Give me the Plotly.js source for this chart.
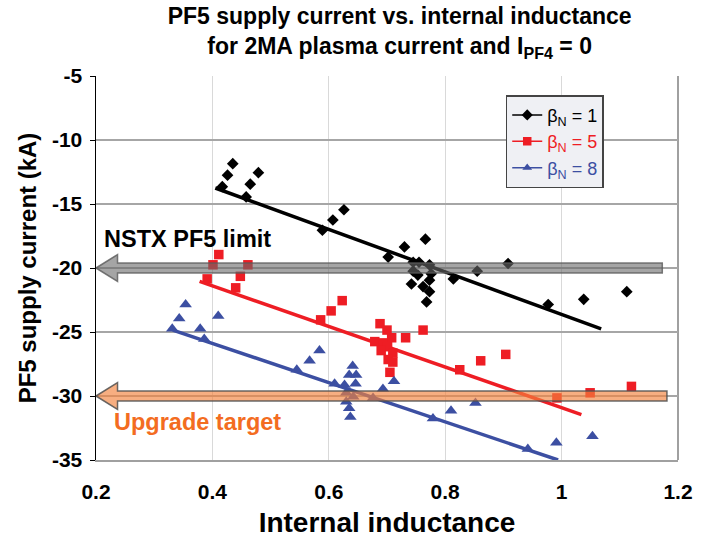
<!DOCTYPE html>
<html>
<head>
<meta charset="utf-8">
<script src="https://cdn.plot.ly/plotly-3.0.1.min.js"></script>
<style>html,body{margin:0;padding:0;background:#fff;}#chart{width:715px;height:538px;}</style>
</head>
<body>
<div id="chart"></div>
<script>
// ---- data ----
const seriesNames = ['β<sub>N</sub> = 1', 'β<sub>N</sub> = 5', 'β<sub>N</sub> = 8'];

const li_b1 = [0.417,0.426,0.435,0.465,0.479,0.458,0.589,0.607,0.626,0.702,0.730,0.766,0.745,0.755,0.773,0.745,0.753,0.776,0.773,0.742,0.762,0.773,0.768,0.814,0.855,0.908,0.977,1.038,1.112];
const ipf5_b1 = [-13.65,-12.75,-11.85,-13.45,-12.55,-14.45,-17.05,-16.25,-15.45,-19.15,-18.35,-17.75,-19.55,-19.55,-19.75,-20.25,-20.55,-20.45,-20.95,-21.25,-21.45,-21.85,-22.65,-20.85,-20.25,-19.65,-22.85,-22.45,-21.85];

const li_b5 = [0.411,0.401,0.461,0.391,0.448,0.440,0.586,0.604,0.623,0.688,0.700,0.708,0.679,0.693,0.701,0.690,0.710,0.702,0.710,0.705,0.732,0.762,0.825,0.861,0.904,0.992,1.049,1.120];
const ipf5_b5 = [-18.95,-19.75,-19.75,-20.85,-20.65,-21.55,-24.05,-23.35,-22.55,-24.35,-24.85,-25.45,-25.75,-25.85,-26.15,-26.45,-26.65,-27.15,-27.35,-28.15,-25.45,-24.85,-27.95,-27.25,-26.75,-30.15,-29.75,-29.25];

const li_b8 = [0.354,0.343,0.331,0.379,0.386,0.410,0.545,0.567,0.584,0.610,0.641,0.635,0.647,0.627,0.646,0.630,0.642,0.630,0.635,0.637,0.676,0.693,0.712,0.779,0.810,0.852,0.942,0.991,1.053];
const ipf5_b8 = [-22.85,-23.95,-24.75,-24.75,-25.55,-23.75,-27.95,-27.25,-26.45,-29.05,-27.65,-28.35,-28.35,-29.15,-29.05,-29.75,-30.05,-30.45,-30.95,-31.65,-30.15,-29.45,-28.85,-31.75,-31.15,-30.55,-34.15,-33.65,-33.15];

// fitted trend lines (end points)
const fitX_b1 = [0.405, 1.068], fitY_b1 = [-13.75, -24.75];
const fitX_b5 = [0.378, 1.034], fitY_b5 = [-21.05, -31.45];
const fitX_b8 = [0.332, 0.994], fitY_b8 = [-24.85, -35.0];

// y tick labels (plain hyphen minus as in the reference)
const yTickVals = [-35, -30, -25, -20, -15, -10, -5];
const yTickText = ['-35', '-30', '-25', '-20', '-15', '-10', '-5'];

// reference levels (arrows)
const limitLevels = [-20, -30];
const limitLabels = ['NSTX PF5 limit', 'Upgrade target'];
const limitEnds = [1.173, 1.181];

// ---- styles ----
const colors = ['#000000', '#EE1D24', '#3C4FA2'];
const symbols = ['diamond', 'square', 'triangle-up'];
const sizes = [9, 9.5, 11];
const FONT = 'Liberation Sans, Arial, sans-serif';

const xs = [li_b1, li_b5, li_b8], ys = [ipf5_b1, ipf5_b5, ipf5_b8];
const fx = [fitX_b1, fitX_b5, fitX_b8], fy = [fitY_b1, fitY_b5, fitY_b8];

const traces = [];
for (let i = 0; i < 3; i++) {
  traces.push({x: fx[i], y: fy[i], mode: 'lines', line: {color: colors[i], width: 3.5},
    showlegend: false, hoverinfo: 'skip', cliponaxis: true});
}
for (let i = 0; i < 3; i++) {
  traces.push({x: xs[i], y: ys[i], mode: 'markers',
    marker: {symbol: symbols[i], size: sizes[i], color: colors[i]},
    showlegend: false, cliponaxis: false});
}
// legend entries
for (let i = 0; i < 3; i++) {
  traces.push({x: [null], y: [null], mode: 'lines+markers',
    name: '<span style="color:' + colors[i] + '">' + seriesNames[i] + '</span>',
    line: {color: colors[i], width: 1.5},
    marker: {symbol: symbols[i], size: 8.5, color: colors[i]}});
}

// arrows
const tipX = 0.2, baseX = 0.237, headH = 1.05, barH = 0.4;
const arrowFill = ['rgba(105,105,105,0.6)', 'rgba(243,130,62,0.65)'];
const arrowLine = ['rgba(90,90,90,0.8)', 'rgba(80,80,80,0.85)'];
const shapes = limitLevels.map((lv, k) => ({
  type: 'path', xref: 'x', yref: 'y', layer: 'above',
  path: `M${tipX},${lv} L${baseX},${lv + headH} L${baseX},${lv + barH} L${limitEnds[k]},${lv + barH} L${limitEnds[k]},${lv - barH} L${baseX},${lv - barH} L${baseX},${lv - headH} Z`,
  fillcolor: arrowFill[k], line: {color: arrowLine[k], width: 1.5}
}));
// right frame line
shapes.push({type: 'line', xref: 'paper', yref: 'paper', x0: 1, x1: 1, y0: 0, y1: 1,
  line: {color: '#A0A0A0', width: 2}, layer: 'below'});

const annotations = [
  {x: 0.21, y: -17.7, xref: 'x', yref: 'y', text: '<b>' + limitLabels[0] + '</b>', showarrow: false,
   xanchor: 'left', yanchor: 'middle', font: {family: FONT, size: 23.5, color: '#000'}},
  {x: 0.228, y: -32.0, xref: 'x', yref: 'y', text: '<b>' + limitLabels[1] + '</b>', showarrow: false,
   xanchor: 'left', yanchor: 'middle', font: {family: FONT, size: 23.5, color: '#F36C21'}}
];

const layout = {
  width: 715, height: 538,
  margin: {l: 96, r: 37, t: 76, b: 78},
  paper_bgcolor: '#ffffff', plot_bgcolor: '#ffffff',
  font: {family: FONT, color: '#000'},
  title: {
    text: '<b>PF5 supply current vs. internal inductance<br>for 2MA plasma current and I<sub>PF4</sub> = 0</b>',
    font: {family: FONT, size: 23, color: '#000'},
    x: 0.559, xanchor: 'center', xref: 'container',
    y: 0.955, yanchor: 'top', yref: 'container'
  },
  xaxis: {
    range: [0.2, 1.2], dtick: 0.2, tick0: 0.2,
    showgrid: true, gridcolor: '#D9D9D9', gridwidth: 1,
    showline: true, linecolor: '#A0A0A0', linewidth: 2, mirror: false,
    ticks: '', zeroline: false, ticklabelstandoff: 12,
    tickfont: {family: FONT, size: 21, color: '#000', weight: 'bold'},
    title: {text: '<b>Internal inductance</b>', font: {family: FONT, size: 28, color: '#000'}, standoff: 14}
  },
  yaxis: {
    range: [-35, -5], tickmode: 'array', tickvals: yTickVals, ticktext: yTickText,
    showgrid: true, gridcolor: '#A6A6A6', gridwidth: 1.5,
    showline: true, linecolor: '#000', linewidth: 1.5,
    ticks: 'outside', ticklen: 5, tickcolor: '#000', tickwidth: 1,
    zeroline: false, ticklabelstandoff: 3,
    tickfont: {family: FONT, size: 21, color: '#000', weight: 'bold'},
    title: {text: '<b>PF5 supply current (kA)</b>', font: {family: FONT, size: 24, color: '#000'}, standoff: 8}
  },
  legend: {
    x: 0.704, y: 0.95, xanchor: 'left', yanchor: 'top',
    bgcolor: '#EFF0F4', bordercolor: '#444', borderwidth: 1.5,
    font: {family: FONT, size: 18},
    itemwidth: 30, tracegroupgap: 0
  },
  shapes: shapes,
  annotations: annotations
};

Plotly.newPlot('chart', traces, layout, {staticPlot: true, displayModeBar: false});
</script>
</body>
</html>
